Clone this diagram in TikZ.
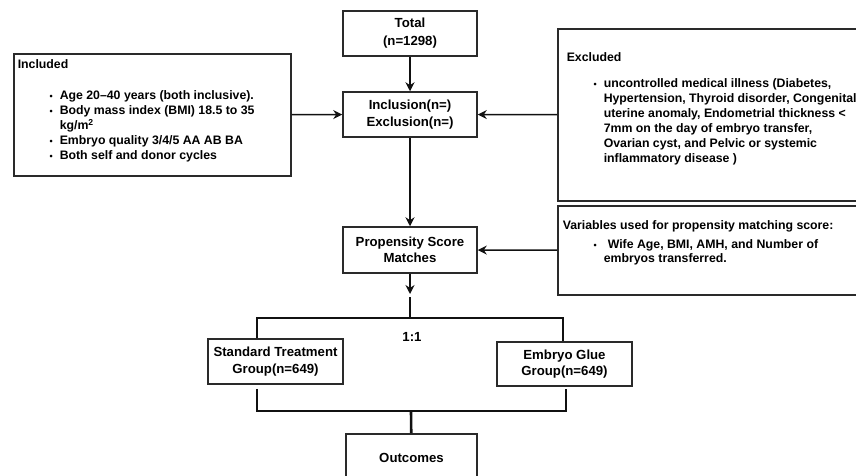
\documentclass[tikz,border=0pt]{standalone}
\usepackage{fontspec}
\setmainfont{Liberation Sans}
\usepackage{enumitem}
\usepackage{tikz}
\usetikzlibrary{arrows.meta,positioning,calc}
\definecolor{flowEdge}{HTML}{2A2A2A}
\definecolor{flowLine}{HTML}{111111}
\newcommand{\bulletmark}{{\fontsize{9}{9}\selectfont\textbullet}}
\setlist[itemize]{nosep,leftmargin=46pt,labelsep=7pt,label=\bulletmark}

\begin{document}
\begin{tikzpicture}[x=1pt,y=-1pt,
  font=\fontsize{13.2}{16.5}\selectfont\bfseries,
  flowbox/.style={draw=flowEdge,line width=1.5pt,fill=white,align=center,
                  minimum width=134pt,minimum height=45pt,inner sep=2pt},
  notebox/.style={draw=flowEdge,line width=1.5pt,anchor=north west,inner sep=0pt},
  link/.style={draw=flowLine,line width=1.6pt,-{Stealth[length=9pt,width=9pt]}},
  fork/.style={draw=flowLine,line width=2.6pt}]
  \useasboundingbox (0,0) rectangle (856,475);
  \clip (0,0) rectangle (856,475);

  \node[flowbox] (total) at (410,33.5) {Total\\[1.5pt](n=1298)};
  \node[flowbox] (choice) at (410,114.5) {Inclusion(n=)\\Exclusion(n=)};
  \node[flowbox,minimum height=46pt] (psm) at (410,250) {Propensity Score\\Matches};
  \node[flowbox,minimum width=135pt] (stdgrp) at (275.5,361.5) {Standard Treatment\\Group(n=649)};
  \node[flowbox,minimum width=135pt,minimum height=44pt] (gluegrp) at (564.5,364) {Embryo Glue\\Group(n=649)};
  \node[flowbox,anchor=north,minimum width=131pt,minimum height=48pt] (outc) at (411.5,433) {Outcomes};
  \node (ratio) at (412,337) {1:1};

  \node[notebox] (incl) at (13,53) {\parbox[c][122pt][t]{277pt}{\fontsize{12.3}{15}\selectfont
    \vspace*{6pt}\hspace*{4pt}Included\par\vspace{16pt}
    \begin{itemize}
      \item Age 20--40 years (both inclusive).
      \item Body mass index (BMI) 18.5 to 35\\kg/m\textsuperscript{2}
      \item Embryo quality 3/4/5 AA AB BA
      \item Both self and donor cycles
    \end{itemize}}};
  \node[notebox] (excl) at (557,28) {\parbox[c][172pt][t]{305pt}{\fontsize{12.3}{15}\selectfont
    \vspace*{24pt}\hspace*{9pt}Excluded\par\vspace{11pt}
    \begin{itemize}
      \item uncontrolled medical illness (Diabetes,\\Hypertension, Thyroid disorder, Congenital\\uterine anomaly, Endometrial thickness <\\7mm on the day of embryo transfer,\\Ovarian cyst, and Pelvic or systemic\\inflammatory disease )
    \end{itemize}}};
  \node[notebox] (vars) at (557,205) {\parbox[c][89pt][t]{305pt}{\fontsize{12.3}{15}\selectfont
    \vspace*{15pt}\hspace*{5pt}Variables used for propensity matching score:\par\vspace{4pt}
    \begin{itemize}
      \item\hspace{4pt}Wife Age, BMI, AMH, and Number of\\[-1pt]embryos transferred.
    \end{itemize}}};

  \coordinate (psmtip) at (410,294);
  \coordinate (forktop) at (410,297);
  \coordinate (fork) at (410,318);
  \coordinate (join) at (411,411);

  \draw[link] (total) -- (choice);
  \draw[link] (incl) -- (choice);
  \draw[link] (excl) -- (choice);
  \draw[link] (choice) -- (psm);
  \draw[link] (vars) -- (psm);
  \draw[link] (psm) -- (psmtip);
  \draw[fork] (forktop) -- (fork);
  \draw[fork] ([xshift=-18.5pt]stdgrp.north) |- (fork) -| ([xshift=-1.5pt]gluegrp.north);
  \draw[fork] ([xshift=-18.5pt,yshift=-4pt]stdgrp.south) |- (join) -| ([xshift=1.5pt,yshift=-2pt]gluegrp.south);
  \draw[fork] (join) -- (outc);
\end{tikzpicture}
\end{document}
